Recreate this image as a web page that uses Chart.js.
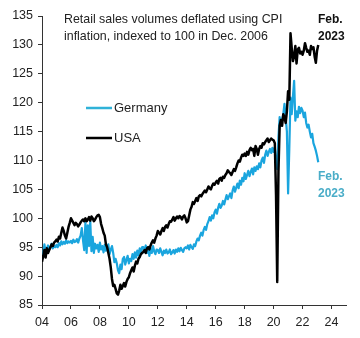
<!DOCTYPE html>
<html lang="en">
<head>
  <meta charset="UTF-8">
  <title>Retail sales volumes: Germany vs USA</title>
  <script src="https://cdn.jsdelivr.net/npm/chart.js"></script>
  <style>
    body {
      margin: 0;
      background: #fff;
    }
    #wrap {
      width: 360px;
      height: 338px;
    }
  </style>
</head>
<body>
  <div id="wrap">
    <canvas id="salesChart" width="360" height="338"></canvas>
  </div>

  <script>
    // monthly series, Jan 2004 .. Feb 2023 (index 100 = Dec 2006)
    const startYear = 2004;

    const germany = [
      93.0, 93.8, 95.5, 94.2, 94.8, 95.3, 94.6, 95.0, 95.6, 94.8, 95.2, 95.0, // 2004
      95.4, 95.0, 95.7, 95.3, 96.0, 95.5, 95.9, 95.6, 96.2, 95.7, 96.0, 95.8, // 2005
      96.1, 95.7, 96.3, 95.9, 96.0, 96.4, 95.8, 96.5, 97.0, 98.3, 96.2, 94.5, // 2006
      99.3, 94.0, 98.8, 95.2, 99.5, 94.3, 96.8, 94.0, 95.6, 94.8, 95.4, 94.2, // 2007
      95.8, 94.6, 95.2, 94.1, 95.4, 94.4, 95.0, 95.5, 93.8, 94.6, 95.2, 94.0, // 2008
      92.4, 93.0, 92.2, 91.0, 90.5, 92.0, 91.2, 93.0, 93.3, 92.0, 92.8, 93.5, // 2009
      92.2, 93.0, 92.6, 93.8, 93.0, 94.1, 93.2, 94.4, 93.6, 94.8, 94.0, 95.0, // 2010
      95.0, 94.2, 95.3, 94.0, 94.6, 93.5, 94.8, 94.0, 95.2, 94.3, 93.8, 94.6, // 2011
      94.5, 94.0, 94.8, 94.2, 93.6, 94.4, 94.0, 94.6, 93.9, 94.1, 94.6, 93.8, // 2012
      94.1, 94.5, 93.9, 94.6, 94.2, 94.8, 94.3, 94.9, 94.5, 94.2, 94.8, 95.0, // 2013
      94.8, 95.3, 94.6, 95.4, 95.0, 94.7, 95.5, 95.2, 96.0, 96.5, 96.2, 97.0, // 2014
      97.5, 97.0, 98.0, 98.5, 98.0, 99.0, 99.5, 100.2, 99.6, 100.5, 100.0, 101.0, // 2015
      101.5, 100.8, 101.8, 102.5, 101.8, 102.2, 103.0, 102.4, 103.2, 104.0, 103.3, 103.8, // 2016
      104.3, 103.5, 104.8, 105.5, 104.6, 105.3, 106.0, 105.2, 106.5, 105.8, 107.0, 106.4, // 2017
      107.8, 106.8, 107.5, 108.2, 107.3, 108.0, 108.6, 107.6, 108.8, 108.2, 109.0, 108.5, // 2018
      109.5, 108.8, 110.0, 110.5, 109.6, 111.0, 111.7, 110.8, 111.5, 112.0, 111.3, 112.2, // 2019
      111.5, 112.2, 110.0, 108.5, 114.0, 117.5, 116.0, 117.0, 118.0, 119.8, 117.5, 115.0, // 2020
      104.3, 112.0, 120.9, 118.0, 121.0, 123.8, 116.9, 118.5, 117.5, 119.3, 118.2, 119.1, // 2021
      118.6, 117.5, 118.3, 116.5, 115.7, 116.2, 115.0, 114.0, 114.6, 113.0, 112.4, 111.7, // 2022
      110.8, 109.7 // 2023
    ];

    const usa = [
      92.5, 93.5, 94.5, 93.2, 94.8, 94.0, 94.5, 95.0, 95.5, 95.2, 95.8, 96.0, // 2004
      96.3, 96.0, 96.8, 96.5, 97.5, 98.4, 97.8, 97.0, 96.5, 97.5, 98.5, 99.2, // 2005
      100.0, 99.6, 99.2, 98.8, 99.2, 99.0, 98.6, 98.9, 99.3, 99.6, 99.8, 99.5, // 2006
      100.0, 99.5, 99.8, 100.2, 99.6, 100.3, 100.0, 99.5, 99.8, 100.2, 100.5, 100.6, // 2007
      100.2, 99.0, 98.3, 97.5, 97.0, 95.5, 95.0, 94.0, 93.0, 91.5, 89.5, 88.3, // 2008
      88.5, 87.8, 87.0, 86.8, 87.5, 88.5, 87.8, 88.3, 88.8, 88.2, 89.0, 89.5, // 2009
      89.8, 90.5, 91.0, 91.5, 90.8, 91.8, 92.5, 92.2, 93.0, 93.3, 93.8, 94.0, // 2010
      94.2, 94.5, 94.0, 94.8, 95.0, 94.6, 95.3, 95.8, 96.2, 95.8, 96.5, 97.0, // 2011
      97.8, 97.5, 97.2, 97.8, 98.3, 97.8, 98.5, 98.8, 98.4, 99.0, 99.5, 99.4, // 2012
      99.8, 100.2, 99.6, 100.0, 100.3, 100.0, 100.4, 100.2, 99.8, 100.3, 100.5, 100.0, // 2013
      99.3, 99.5, 100.5, 101.5, 102.0, 102.8, 102.5, 103.0, 103.5, 103.0, 103.8, 104.0, // 2014
      103.8, 104.2, 104.5, 104.8, 104.5, 105.0, 105.5, 105.2, 105.0, 105.6, 106.0, 105.8, // 2015
      106.2, 106.5, 106.0, 106.8, 107.0, 106.5, 107.2, 107.0, 107.5, 107.8, 108.3, 108.0, // 2016
      107.8, 107.5, 108.0, 108.5, 108.2, 108.8, 109.5, 110.0, 109.8, 110.5, 111.0, 110.8, // 2017
      111.2, 110.8, 111.5, 111.0, 111.8, 112.2, 111.8, 112.0, 110.8, 112.5, 112.0, 111.0, // 2018
      112.0, 112.5, 112.2, 113.0, 112.8, 113.2, 113.5, 113.8, 113.2, 113.5, 113.8, 113.6, // 2019
      113.5, 113.0, 104.0, 89.0, 108.0, 116.0, 117.0, 116.0, 118.0, 117.5, 116.5, 118.5, // 2020
      122.0, 120.5, 132.0, 129.5, 127.2, 128.0, 129.8, 126.8, 129.2, 129.5, 128.5, 128.8, // 2021
      128.3, 129.0, 130.3, 129.5, 128.8, 129.0, 128.3, 129.8, 129.3, 129.6, 128.0, 126.9, // 2022
      129.0, 130.0 // 2023
    ];

    const yearTicks = [2004, 2006, 2008, 2010, 2012, 2014, 2016, 2018, 2020, 2022, 2024];

    const titleLines = ['Retail sales volumes deflated using CPI', 'inflation, indexed to 100 in Dec. 2006'];

    const GER_COLOR = '#1aa5de';
    const USA_COLOR = '#000000';
    const FONT = "'Liberation Sans', Arial, sans-serif";

    const toPoints = arr => arr.map((v, i) => ({ x: startYear + i / 12, y: v }));

    // legend + annotations drawn on top of the chart
    const annotations = {
      id: 'annotations',
      afterDraw(chart) {
        const ctx = chart.ctx;
        ctx.save();
        ctx.textBaseline = 'middle';
        ctx.textAlign = 'left';

        ctx.fillStyle = '#222';
        ctx.font = '12.4px ' + FONT;
        ctx.fillText(titleLines[0], 64, 20);
        ctx.fillText(titleLines[1], 64, 37);

        // legend
        ctx.lineWidth = 2.5;
        ctx.strokeStyle = '#2fb2d8';
        ctx.beginPath(); ctx.moveTo(86, 108); ctx.lineTo(112, 108); ctx.stroke();
        ctx.strokeStyle = '#000';
        ctx.beginPath(); ctx.moveTo(86, 138); ctx.lineTo(112, 138); ctx.stroke();
        ctx.font = '13px ' + FONT;
        ctx.fillStyle = '#222';
        ctx.fillText('Germany', 114, 108);
        ctx.fillText('USA', 114, 138);

        // end labels
        ctx.font = 'bold 12px ' + FONT;
        ctx.fillStyle = '#111';
        ctx.fillText('Feb.', 318, 20);
        ctx.fillText('2023', 318, 37);
        ctx.fillStyle = '#4aadc8';
        ctx.fillText('Feb.', 318, 177);
        ctx.fillText('2023', 318, 194);
        ctx.restore();
      }
    };

    new Chart(document.getElementById('salesChart'), {
      type: 'line',
      data: {
        datasets: [
          {
            label: 'USA',
            data: toPoints(usa),
            borderColor: USA_COLOR,
            borderWidth: 2.5,
            pointRadius: 0,
            tension: 0,
            borderJoinStyle: 'round'
          },
          {
            label: 'Germany',
            data: toPoints(germany),
            borderColor: GER_COLOR,
            borderWidth: 2.2,
            pointRadius: 0,
            tension: 0,
            borderJoinStyle: 'round'
          }
        ]
      },
      options: {
        responsive: false,
        animation: false,
        layout: { padding: { top: 16, right: 14, left: 0, bottom: 0 } },
        plugins: {
          legend: { display: false },
          tooltip: { enabled: false }
        },
        scales: {
          x: {
            type: 'linear',
            min: 2004,
            max: 2025,
            afterBuildTicks: scale => { scale.ticks = yearTicks.map(v => ({ value: v })); },
            afterFit: scale => { scale.height = 33; },
            ticks: {
              color: '#222',
              font: { family: FONT, size: 12.5 },
              padding: 6,
              maxRotation: 0,
              callback: v => String(v % 100).padStart(2, '0')
            },
            grid: { drawOnChartArea: false, drawTicks: true, tickLength: 4, color: '#333' },
            border: { display: true, color: '#333', width: 1 }
          },
          y: {
            min: 85,
            max: 135,
            afterFit: scale => { scale.width = 42; },
            ticks: {
              stepSize: 5,
              color: '#222',
              font: { family: FONT, size: 12.5 },
              padding: 5
            },
            grid: { drawOnChartArea: false, drawTicks: true, tickLength: 4, color: '#333' },
            border: { display: true, color: '#333', width: 1 }
          }
        }
      },
      plugins: [annotations]
    });
  </script>
</body>
</html>
